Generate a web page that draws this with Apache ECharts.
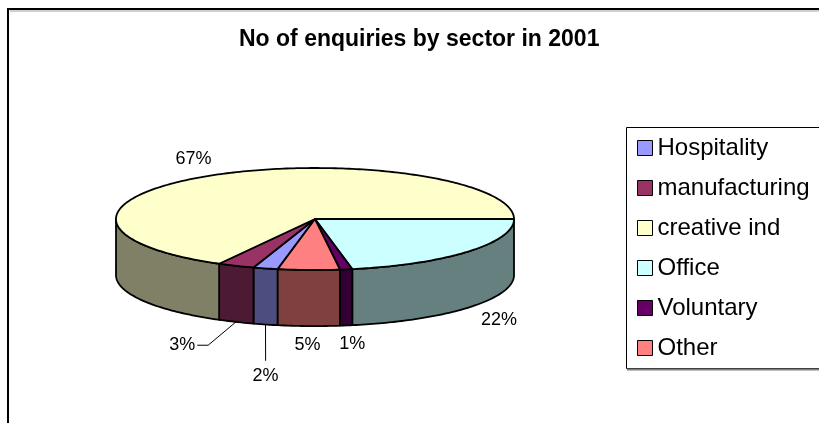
<!DOCTYPE html>
<html>
<head>
<meta charset="utf-8">
<script src="https://cdn.jsdelivr.net/npm/echarts@6/dist/echarts.min.js"></script>
<style>
  html, body { margin: 0; padding: 0; background: #fff; }
  #chart { width: 819px; height: 423px; }
</style>
</head>
<body>
<div id="chart"></div>
<script>
// Enquiries by sector, 2001 (percent of total)
const categories = ['Hospitality', 'manufacturing', 'creative ind', 'Office', 'Voluntary', 'Other'];
const shares = [2, 3, 67, 22, 1, 5];
const percentLabels = ['2%', '3%', '67%', '22%', '1%', '5%'];

// Face colours and the darker wall colours of the 3-D pie
const topColors = ['#9999FF', '#993366', '#FFFFCC', '#CCFFFF', '#660066', '#FF8080'];
const sideColors = ['#4D4D80', '#4D1A33', '#808066', '#668080', '#330033', '#804040'];

// Geometry of the tilted pie, in axis units (x: horizontal radius = 1, y: vertical radius = 1)
const FIRST_ANGLE = 100.8;   // where the first slice starts, degrees clockwise from 3 o'clock
const DEPTH = 1.1;           // height of the rim wall
const LABEL_RX = 1.2, LABEL_RY = 1.37;
// crowded labels are pushed aside (px) and tied back with a leader line
const labelShift = { 1: [-38, 6], 0: [10, 33] };

const FONT = '"Liberation Sans", Arial, sans-serif';
const total = shares.reduce((a, b) => a + b, 0);
const startDeg = [];
shares.reduce((acc, v, i) => { startDeg[i] = FIRST_ANGLE + acc / total * 360; return acc + v; }, 0);

function makeRender(i) {
  return function (params, api) {
    const share = api.value(2);
    const a0 = startDeg[i];
    const a1 = a0 + share / total * 360;
    const pt = (deg, drop) => {
      const r = deg * Math.PI / 180;
      return api.coord([Math.cos(r), Math.sin(r) + (drop || 0)]);
    };
    const arc = (from, to, drop) => {
      const out = [];
      const step = from <= to ? 1 : -1;
      for (let d = from; ; d += step) {
        if ((step > 0 && d >= to) || (step < 0 && d <= to)) { out.push(pt(to, drop)); break; }
        out.push(pt(d, drop));
      }
      return out;
    };
    const children = [];

    // rim wall: only the part of the rim facing the viewer (0..180 deg, repeated each turn)
    for (let k = 0; k <= 1; k++) {
      const lo = Math.max(a0, 360 * k), hi = Math.min(a1, 360 * k + 180);
      if (hi > lo) {
        const pts = arc(lo, hi, 0).concat(arc(hi, lo, DEPTH));
        children.push({
          type: 'polygon', z2: 1,
          shape: { points: pts },
          style: { fill: sideColors[i], stroke: '#000', lineWidth: 1.8, lineJoin: 'round' }
        });
      }
    }

    // top face
    const face = [api.coord([0, 0])].concat(arc(a0, a1, 0));
    children.push({
      type: 'polygon', z2: 10,
      shape: { points: face },
      style: { fill: topColors[i], stroke: '#000', lineWidth: 1.8, lineJoin: 'round' }
    });

    // percentage label
    const mid = (a0 + a1) / 2 * Math.PI / 180;
    const front = Math.sin(mid) > 0;
    const base = api.coord([LABEL_RX * Math.cos(mid), LABEL_RY * Math.sin(mid) + (front ? DEPTH : 0)]);
    let pos = base;
    const shift = labelShift[i];
    if (shift) {
      pos = [base[0] + shift[0], base[1] + shift[1]];
      const anchor = pt((a0 + a1) / 2, DEPTH);
      let line;
      if (Math.abs(shift[0]) > Math.abs(shift[1])) {
        line = [[pos[0] + 15, pos[1]], [pos[0] + 26, pos[1]], anchor];
      } else {
        line = [[pos[0], pos[1] - 15], anchor];
      }
      children.push({
        type: 'polyline', z2: 20,
        shape: { points: line },
        style: { stroke: '#000', lineWidth: 1, fill: null }
      });
    }
    children.push({
      type: 'text', z2: 20,
      style: {
        text: percentLabels[i], x: pos[0], y: pos[1],
        fill: '#000', font: '18px ' + FONT, align: 'center', verticalAlign: 'middle'
      }
    });

    return { type: 'group', children };
  };
}

const chart = echarts.init(document.getElementById('chart'), null, { renderer: 'canvas' });
chart.setOption({
  animation: false,
  backgroundColor: '#fff',
  title: {
    text: 'No of enquiries by sector in 2001',
    left: 239, top: 28, padding: 0,
    textStyle: { fontSize: 23, fontWeight: 'bold', fontFamily: FONT, color: '#000' }
  },
  graphic: [
    { type: 'rect', z: 0, shape: { x: 8, y: 9, width: 900, height: 500 },
      style: { fill: null, stroke: '#000', lineWidth: 2 } },
    { type: 'line', z: 0, shape: { x1: 10, y1: 11, x2: 900, y2: 11 },
      style: { stroke: '#a0a0a0', lineWidth: 1 } },
    { type: 'rect', z: 0, shape: { x: 626.5, y: 127.5, width: 300, height: 241 },
      style: { fill: '#fff', stroke: '#000', lineWidth: 1 } },
    { type: 'line', z: 0, shape: { x1: 627, y1: 369.5, x2: 900, y2: 369.5 },
      style: { stroke: '#808080', lineWidth: 2 } }
  ],
  legend: {
    orient: 'vertical', left: 637, top: 136, padding: 0,
    itemWidth: 15, itemHeight: 15, itemGap: 16, icon: 'rect',
    selectedMode: false,
    itemStyle: { borderColor: '#000', borderWidth: 1 },
    textStyle: { fontSize: 24, lineHeight: 24, fontFamily: FONT, color: '#000' },
    data: categories
  },
  grid: { left: 116, top: 168, width: 398, height: 102, show: false },
  xAxis: { type: 'value', min: -1, max: 1, show: false },
  yAxis: { type: 'value', min: -1, max: 1, inverse: true, show: false },
  series: categories.map((name, i) => ({
    type: 'custom',
    name,
    coordinateSystem: 'cartesian2d',
    clip: false,
    silent: true,
    itemStyle: { color: topColors[i] },
    renderItem: makeRender(i),
    data: [[0, 0, shares[i]]]
  }))
});
</script>
</body>
</html>
